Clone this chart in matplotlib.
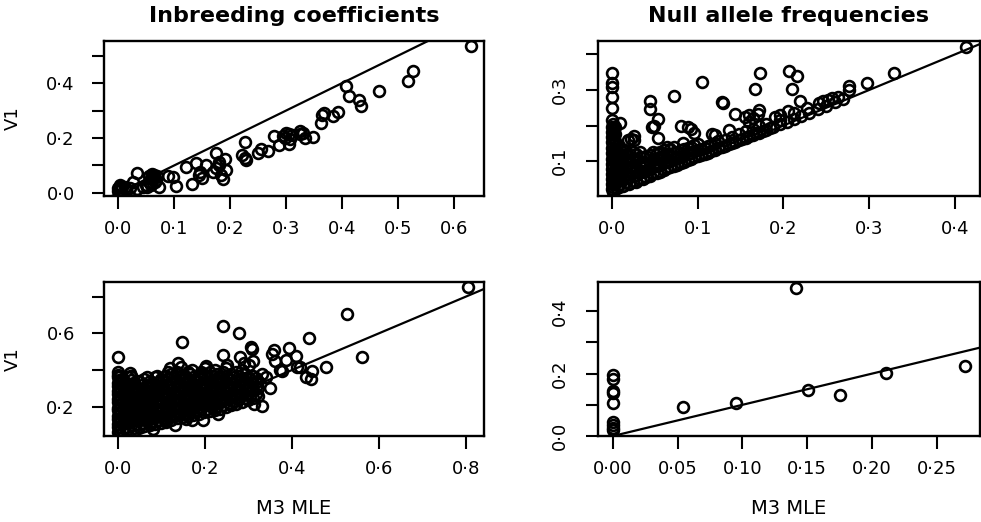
import matplotlib
matplotlib.use("Agg")
import matplotlib.pyplot as plt
import numpy as np

plt.rcParams['font.family'] = ['DejaVu Sans']

# --- panel A: inbreeding coefficients, locus set 1 (M3 MLE, V1)
inb_top = [
    (0.630, 0.534), (0.526, 0.443), (0.517, 0.406), (0.465, 0.370), (0.407, 0.388),
    (0.412, 0.352), (0.430, 0.339), (0.434, 0.315), (0.392, 0.293), (0.364, 0.285),
    (0.368, 0.290), (0.383, 0.279), (0.362, 0.254), (0.348, 0.202), (0.330, 0.219),
    (0.324, 0.224), (0.333, 0.200), (0.300, 0.218), (0.294, 0.208), (0.306, 0.196),
    (0.288, 0.173), (0.305, 0.179), (0.279, 0.209), (0.267, 0.153), (0.256, 0.161),
    (0.250, 0.145), (0.226, 0.187), (0.222, 0.139), (0.226, 0.126), (0.229, 0.120),
    (0.175, 0.145), (0.181, 0.114), (0.190, 0.123), (0.193, 0.082), (0.184, 0.066),
    (0.187, 0.050), (0.175, 0.090), (0.169, 0.078), (0.157, 0.102), (0.146, 0.078),
    (0.144, 0.066), (0.149, 0.056), (0.140, 0.108), (0.122, 0.094), (0.132, 0.032),
    (0.104, 0.026), (0.099, 0.057), (0.089, 0.060), (0.074, 0.023), (0.065, 0.066),
    (0.059, 0.054), (0.056, 0.041), (0.050, 0.029), (0.068, 0.047), (0.062, 0.060),
    (0.033, 0.074), (0.027, 0.041), (0.034, 0.013), (0.021, 0.017), (0.012, 0.023),
    (0.003, 0.029), (0.000, 0.017), (0.000, 0.009), (0.003, 0.023), (0.060, 0.068),
    (0.063, 0.052), (0.066, 0.039), (0.058, 0.030), (0.052, 0.022), (0.045, 0.020),
    (0.004, 0.012), (0.008, 0.020), (0.015, 0.015), (0.070, 0.060), (0.055, 0.062),
    (0.305, 0.215), (0.298, 0.200), (0.325, 0.215), (0.180, 0.100), (0.310, 0.210),
]

# --- panel B: null allele frequencies, locus set 1
null_top = [
    # scattered points above the main band
    (0.413, 0.422), (0.329, 0.347), (0.298, 0.319), (0.277, 0.310), (0.277, 0.300),
    (0.264, 0.281), (0.257, 0.277), (0.252, 0.273), (0.246, 0.270), (0.241, 0.264),
    (0.228, 0.250), (0.219, 0.269), (0.210, 0.302), (0.206, 0.353), (0.216, 0.339),
    (0.173, 0.347), (0.167, 0.302), (0.172, 0.244), (0.105, 0.323), (0.072, 0.284),
    (0.044, 0.270), (0.044, 0.246), (0.054, 0.218), (0.046, 0.195), (0.128, 0.267),
    (0.129, 0.264), (0.143, 0.232), (0.080, 0.200), (0.088, 0.197), (0.092, 0.189),
    (0.095, 0.180), (0.009, 0.207), (0.022, 0.162), (0.025, 0.158), (0.019, 0.160),
    (0.013, 0.117), (0.054, 0.165), (0.083, 0.150), (0.120, 0.173), (0.136, 0.187),
    (0.155, 0.225), (0.160, 0.230), (0.165, 0.220), (0.170, 0.232), (0.190, 0.225),
    (0.196, 0.230), (0.205, 0.240), (0.212, 0.235), (0.049, 0.200), (0.016, 0.128),
    (0.025, 0.170), (0.117, 0.175), (0.160, 0.210),
    # loci with M3 estimate at zero
    (0.000, 0.347), (0.000, 0.319), (0.000, 0.309), (0.000, 0.281), (0.000, 0.248),
    (0.000, 0.215), (0.001, 0.205), (0.000, 0.197), (0.002, 0.190), (0.000, 0.183),
    (0.001, 0.176), (0.000, 0.168), (0.002, 0.160), (0.000, 0.153), (0.001, 0.145),
    (0.000, 0.138), (0.002, 0.130), (0.000, 0.122), (0.001, 0.115), (0.000, 0.107),
    (0.002, 0.100), (0.000, 0.093), (0.001, 0.085), (0.000, 0.078), (0.002, 0.070),
    (0.000, 0.063), (0.001, 0.056), (0.000, 0.048), (0.002, 0.041), (0.000, 0.034),
    (0.001, 0.027), (0.000, 0.020), (0.001, 0.014),
    (0.003, 0.035), (0.003, 0.055), (0.003, 0.075), (0.003, 0.095), (0.003, 0.115),
    (0.003, 0.135), (0.003, 0.155), (0.003, 0.175), (0.003, 0.195),
    # dense mass just above the diagonal
    (0.006, 0.025), (0.006, 0.045), (0.006, 0.065), (0.006, 0.085), (0.006, 0.105),
    (0.006, 0.125), (0.006, 0.145), (0.013, 0.030), (0.013, 0.050), (0.013, 0.070),
    (0.013, 0.090), (0.013, 0.110), (0.013, 0.130), (0.020, 0.035), (0.020, 0.055),
    (0.020, 0.075), (0.020, 0.095), (0.020, 0.115), (0.028, 0.042), (0.028, 0.062),
    (0.028, 0.082), (0.028, 0.102), (0.028, 0.120), (0.036, 0.050), (0.036, 0.070),
    (0.036, 0.090), (0.036, 0.110), (0.044, 0.058), (0.044, 0.078), (0.044, 0.098),
    (0.044, 0.118), (0.052, 0.066), (0.052, 0.086), (0.052, 0.106), (0.052, 0.122),
    (0.060, 0.074), (0.060, 0.094), (0.060, 0.114), (0.060, 0.130), (0.068, 0.082),
    (0.068, 0.100), (0.068, 0.118), (0.068, 0.135), (0.076, 0.090), (0.076, 0.108),
    (0.076, 0.125), (0.084, 0.098), (0.084, 0.116), (0.084, 0.133), (0.092, 0.106),
    (0.092, 0.122), (0.092, 0.140), (0.100, 0.113), (0.100, 0.130), (0.100, 0.148),
    (0.009, 0.035), (0.009, 0.055), (0.009, 0.075), (0.009, 0.095), (0.009, 0.115),
    (0.009, 0.135), (0.016, 0.040), (0.016, 0.060), (0.016, 0.080), (0.016, 0.100),
    (0.016, 0.120), (0.024, 0.045), (0.024, 0.065), (0.024, 0.085), (0.024, 0.105),
    (0.024, 0.125), (0.032, 0.050), (0.032, 0.070), (0.032, 0.090), (0.032, 0.110),
    (0.032, 0.125), (0.040, 0.055), (0.040, 0.075), (0.040, 0.095), (0.040, 0.115),
    (0.048, 0.065), (0.048, 0.085), (0.048, 0.105), (0.048, 0.125), (0.056, 0.070),
    (0.056, 0.090), (0.056, 0.110), (0.056, 0.125), (0.064, 0.080), (0.064, 0.100),
    (0.064, 0.120), (0.064, 0.140), (0.072, 0.087), (0.072, 0.105), (0.072, 0.122),
    (0.072, 0.140), (0.080, 0.095), (0.080, 0.112), (0.080, 0.130), (0.088, 0.102),
    (0.088, 0.120), (0.088, 0.138), (0.096, 0.110), (0.096, 0.127), (0.096, 0.145),
    # band along the diagonal
    (0.104, 0.117), (0.104, 0.135), (0.108, 0.120), (0.108, 0.138), (0.112, 0.124),
    (0.112, 0.142), (0.116, 0.128), (0.116, 0.145), (0.120, 0.132), (0.120, 0.150),
    (0.124, 0.136), (0.124, 0.155), (0.128, 0.139), (0.132, 0.143), (0.132, 0.160),
    (0.136, 0.147), (0.140, 0.150), (0.140, 0.168), (0.144, 0.154), (0.148, 0.158),
    (0.148, 0.175), (0.152, 0.162), (0.156, 0.165), (0.156, 0.185), (0.160, 0.170),
    (0.164, 0.173), (0.164, 0.190), (0.168, 0.178), (0.172, 0.180), (0.172, 0.200),
    (0.176, 0.185), (0.180, 0.188), (0.180, 0.205), (0.184, 0.192), (0.188, 0.195),
    (0.196, 0.203), (0.196, 0.215), (0.204, 0.211), (0.212, 0.218), (0.220, 0.226),
    (0.230, 0.236), (0.240, 0.247), (0.250, 0.256), (0.260, 0.265), (0.270, 0.275),
]

# --- panel C: inbreeding coefficients, locus set 2
inb_bot = [
    # outlying points
    (0.000, 0.470), (0.147, 0.555), (0.242, 0.641), (0.278, 0.601), (0.305, 0.528),
    (0.307, 0.513), (0.353, 0.490), (0.358, 0.510), (0.392, 0.519), (0.408, 0.477),
    (0.385, 0.455), (0.373, 0.400), (0.376, 0.396), (0.242, 0.482), (0.280, 0.473),
    (0.137, 0.437), (0.144, 0.416), (0.118, 0.409), (0.027, 0.382), (0.029, 0.365),
    (0.202, 0.422), (0.350, 0.300), (0.331, 0.203), (0.312, 0.217), (0.196, 0.130),
    (0.155, 0.135), (0.110, 0.117), (0.805, 0.853), (0.526, 0.707), (0.440, 0.577),
    (0.560, 0.473), (0.478, 0.418), (0.411, 0.415), (0.419, 0.415), (0.431, 0.360),
    (0.444, 0.351), (0.446, 0.396), (0.300, 0.430), (0.290, 0.440), (0.310, 0.450),
    (0.340, 0.360), (0.330, 0.380), (0.360, 0.450),
    # loci with M3 estimate at zero
    (0.000, 0.390), (0.000, 0.375), (0.000, 0.360), (0.001, 0.345), (0.000, 0.330),
    (0.000, 0.315), (0.001, 0.300), (0.000, 0.285), (0.000, 0.270), (0.001, 0.255),
    (0.000, 0.240), (0.000, 0.225), (0.001, 0.210), (0.000, 0.195), (0.000, 0.180),
    (0.001, 0.165), (0.000, 0.150), (0.000, 0.135), (0.001, 0.120), (0.000, 0.105),
    (0.000, 0.090), (0.001, 0.075), (0.000, 0.062),
    (0.004, 0.09), (0.004, 0.13), (0.004, 0.17), (0.004, 0.21), (0.004, 0.25),
    (0.004, 0.29), (0.004, 0.33), (0.004, 0.37),
    # main cloud
    (0.010, 0.07), (0.010, 0.11), (0.010, 0.15), (0.010, 0.19), (0.010, 0.23),
    (0.010, 0.27), (0.010, 0.31), (0.010, 0.35), (0.022, 0.08), (0.022, 0.12),
    (0.022, 0.16), (0.022, 0.20), (0.022, 0.24), (0.022, 0.28), (0.022, 0.32),
    (0.022, 0.36), (0.035, 0.085), (0.035, 0.125), (0.035, 0.165), (0.035, 0.205),
    (0.035, 0.245), (0.035, 0.285), (0.035, 0.33), (0.048, 0.09), (0.048, 0.13),
    (0.048, 0.17), (0.048, 0.21), (0.048, 0.25), (0.048, 0.29), (0.048, 0.34),
    (0.060, 0.095), (0.060, 0.135), (0.060, 0.175), (0.060, 0.215), (0.060, 0.255),
    (0.060, 0.30), (0.060, 0.35), (0.072, 0.10), (0.072, 0.14), (0.072, 0.18),
    (0.072, 0.22), (0.072, 0.26), (0.072, 0.30), (0.072, 0.34), (0.085, 0.105),
    (0.085, 0.145), (0.085, 0.185), (0.085, 0.225), (0.085, 0.265), (0.085, 0.31),
    (0.085, 0.36), (0.098, 0.11), (0.098, 0.15), (0.098, 0.19), (0.098, 0.23),
    (0.098, 0.27), (0.098, 0.31), (0.098, 0.35), (0.110, 0.125), (0.110, 0.16),
    (0.110, 0.20), (0.110, 0.24), (0.110, 0.28), (0.110, 0.32), (0.110, 0.37),
    (0.122, 0.13), (0.122, 0.17), (0.122, 0.21), (0.122, 0.25), (0.122, 0.29),
    (0.122, 0.33), (0.122, 0.38), (0.135, 0.14), (0.135, 0.175), (0.135, 0.215),
    (0.135, 0.255), (0.135, 0.295), (0.135, 0.34), (0.135, 0.39), (0.148, 0.145),
    (0.148, 0.18), (0.148, 0.22), (0.148, 0.26), (0.148, 0.30), (0.148, 0.35),
    (0.160, 0.15), (0.160, 0.19), (0.160, 0.23), (0.160, 0.27), (0.160, 0.31),
    (0.160, 0.35), (0.160, 0.39), (0.172, 0.155), (0.172, 0.195), (0.172, 0.235),
    (0.172, 0.275), (0.172, 0.315), (0.172, 0.36), (0.185, 0.16), (0.185, 0.20),
    (0.185, 0.24), (0.185, 0.28), (0.185, 0.32), (0.185, 0.37), (0.198, 0.17),
    (0.198, 0.21), (0.198, 0.25), (0.198, 0.29), (0.198, 0.33), (0.198, 0.38),
    (0.210, 0.175), (0.210, 0.215), (0.210, 0.255), (0.210, 0.295), (0.210, 0.34),
    (0.210, 0.39), (0.222, 0.18), (0.222, 0.22), (0.222, 0.26), (0.222, 0.30),
    (0.222, 0.35), (0.222, 0.40), (0.235, 0.19), (0.235, 0.23), (0.235, 0.27),
    (0.235, 0.31), (0.235, 0.36), (0.248, 0.20), (0.248, 0.24), (0.248, 0.28),
    (0.248, 0.32), (0.248, 0.37), (0.248, 0.41), (0.260, 0.21), (0.260, 0.25),
    (0.260, 0.29), (0.260, 0.33), (0.260, 0.38), (0.272, 0.215), (0.272, 0.255),
    (0.272, 0.295), (0.272, 0.34), (0.272, 0.39), (0.285, 0.225), (0.285, 0.265),
    (0.285, 0.305), (0.285, 0.35), (0.285, 0.40), (0.298, 0.235), (0.298, 0.275),
    (0.298, 0.315), (0.298, 0.36), (0.310, 0.25), (0.310, 0.29), (0.310, 0.33),
    (0.310, 0.37), (0.322, 0.26), (0.322, 0.30), (0.322, 0.34), (0.030, 0.37),
    (0.065, 0.36), (0.090, 0.37), (0.115, 0.39), (0.170, 0.40), (0.200, 0.41),
    (0.250, 0.43), (0.080, 0.08), (0.130, 0.10), (0.170, 0.13), (0.230, 0.16),
    # staggered between the rows above
    (0.016, 0.09), (0.016, 0.13), (0.016, 0.17), (0.016, 0.21), (0.016, 0.25),
    (0.016, 0.29), (0.016, 0.33), (0.029, 0.10), (0.029, 0.14), (0.029, 0.18),
    (0.029, 0.22), (0.029, 0.26), (0.029, 0.30), (0.029, 0.345), (0.041, 0.105),
    (0.041, 0.145), (0.041, 0.19), (0.041, 0.23), (0.041, 0.27), (0.041, 0.31),
    (0.054, 0.11), (0.054, 0.155), (0.054, 0.195), (0.054, 0.235), (0.054, 0.275),
    (0.054, 0.32), (0.066, 0.12), (0.066, 0.16), (0.066, 0.20), (0.066, 0.24),
    (0.066, 0.28), (0.066, 0.32), (0.078, 0.12), (0.078, 0.165), (0.078, 0.205),
    (0.078, 0.245), (0.078, 0.285), (0.078, 0.33), (0.091, 0.13), (0.091, 0.17),
    (0.091, 0.21), (0.091, 0.25), (0.091, 0.29), (0.091, 0.335), (0.104, 0.14),
    (0.104, 0.18), (0.104, 0.22), (0.104, 0.26), (0.104, 0.30), (0.104, 0.345),
    (0.116, 0.145), (0.116, 0.185), (0.116, 0.225), (0.116, 0.265), (0.116, 0.305),
    (0.116, 0.35), (0.128, 0.15), (0.128, 0.19), (0.128, 0.23), (0.128, 0.27),
    (0.128, 0.31), (0.128, 0.36), (0.141, 0.16), (0.141, 0.20), (0.141, 0.24),
    (0.141, 0.28), (0.141, 0.32), (0.141, 0.37), (0.154, 0.165), (0.154, 0.205),
    (0.154, 0.245), (0.154, 0.285), (0.154, 0.33), (0.154, 0.37), (0.166, 0.17),
    (0.166, 0.21), (0.166, 0.25), (0.166, 0.29), (0.166, 0.335), (0.166, 0.38),
    (0.178, 0.18), (0.178, 0.22), (0.178, 0.26), (0.178, 0.30), (0.178, 0.345),
    (0.191, 0.185), (0.191, 0.225), (0.191, 0.265), (0.191, 0.305), (0.191, 0.35),
    (0.191, 0.39), (0.204, 0.19), (0.204, 0.235), (0.204, 0.275), (0.204, 0.315),
    (0.204, 0.36), (0.216, 0.20), (0.216, 0.24), (0.216, 0.28), (0.216, 0.32),
    (0.216, 0.37), (0.228, 0.205), (0.228, 0.245), (0.228, 0.285), (0.228, 0.33),
    (0.228, 0.38), (0.241, 0.21), (0.241, 0.25), (0.241, 0.29), (0.241, 0.34),
    (0.241, 0.39), (0.254, 0.22), (0.254, 0.26), (0.254, 0.30), (0.254, 0.35),
    (0.266, 0.23), (0.266, 0.27), (0.266, 0.31), (0.266, 0.36), (0.279, 0.24),
    (0.279, 0.28), (0.279, 0.32), (0.279, 0.37), (0.291, 0.25), (0.291, 0.29),
    (0.291, 0.33), (0.291, 0.38), (0.304, 0.26), (0.304, 0.30), (0.304, 0.35),
    (0.316, 0.27), (0.316, 0.31), (0.316, 0.355),
]

# --- panel D: null allele frequencies, locus set 2
null_bot = [
    (0.1417, 0.475), (0.272, 0.226), (0.211, 0.201), (0.175, 0.132), (0.151, 0.146),
    (0.0954, 0.105), (0.054, 0.094), (0.0, 0.195), (0.0, 0.183), (0.0, 0.145),
    (0.0, 0.138), (0.0, 0.105), (0.0, 0.045), (0.0, 0.035), (0.0, 0.025), (0.0, 0.018),
]

titles = ["Inbreeding coefficients", "Null allele frequencies"]
x_label = "M3 MLE"
y_label = "V1"


def dot(v, nd=1):
    return f"{v:.{nd}f}".replace(".", "\u00b7")


W, H = 981, 522
fig = plt.figure(figsize=(W / 100, H / 100), dpi=100)


def make_ax(l, t, r, b):
    return fig.add_axes([l / W, 1 - b / H, (r - l) / W, (b - t) / H])


axA = make_ax(104, 41, 484, 196)
axB = make_ax(598, 41, 980, 196)
axC = make_ax(104, 282, 484, 436)
axD = make_ax(598, 282, 980, 436)

panels = [
    (axA, inb_top, (-0.025, 0.653), (-0.011, 0.553),
     np.arange(0, 0.61, 0.1), 1, np.arange(0, 0.51, 0.1), [0, 2, 4], False),
    (axB, null_top, (-0.0165, 0.4295), (0.0015, 0.438),
     np.arange(0, 0.41, 0.1), 1, np.arange(0.1, 0.41, 0.1), [0, 2], True),
    (axC, inb_bot, (-0.033, 0.842), (0.04, 0.88),
     np.arange(0, 0.81, 0.2), 1, np.arange(0.2, 0.81, 0.2), [0, 2], False),
    (axD, null_bot, (-0.0115, 0.2835), (0.0, 0.494),
     np.arange(0, 0.26, 0.05), 2, np.arange(0, 0.41, 0.1), [0, 2, 4], True),
]

for ax, pts, xl, yl, xt, nd, yt, ylab_idx, rot in panels:
    xs = [p[0] for p in pts]
    ys = [p[1] for p in pts]
    ax.plot(xs, ys, 'o', ms=7.8, mfc='none', mec='black', mew=1.9, clip_on=True)
    ax.axline((0, 0), slope=1, color='black', lw=1.6)
    ax.set_xlim(*xl)
    ax.set_ylim(*yl)
    ax.set_xticks(xt)
    ax.set_xticklabels([dot(v, nd) for v in xt])
    ax.set_yticks(yt)
    ax.set_yticklabels([dot(v) if i in ylab_idx else "" for i, v in enumerate(yt)])
    for s in ax.spines.values():
        s.set_linewidth(1.7)
    ax.tick_params(axis='x', direction='out', length=9, width=1.5, pad=8, labelsize=13)
    ax.tick_params(axis='y', direction='out', length=9, width=1.5, pad=12, labelsize=13)
    if rot:
        for lab in ax.get_yticklabels():
            lab.set_rotation(90)
            lab.set_va('center')

fig.text(294 / W, 1 - 16 / H, titles[0], ha='center', va='center',
         fontsize=16, fontweight='bold')
fig.text(789 / W, 1 - 16 / H, titles[1], ha='center', va='center',
         fontsize=16, fontweight='bold')
fig.text(13 / W, 1 - 118 / H, y_label, rotation=90, ha='center', va='center', fontsize=13)
fig.text(13 / W, 1 - 359 / H, y_label, rotation=90, ha='center', va='center', fontsize=13)
fig.text(294 / W, 1 - 508 / H, x_label, ha='center', va='center', fontsize=14)
fig.text(789 / W, 1 - 508 / H, x_label, ha='center', va='center', fontsize=14)

fig.savefig("out.png", dpi=100)
